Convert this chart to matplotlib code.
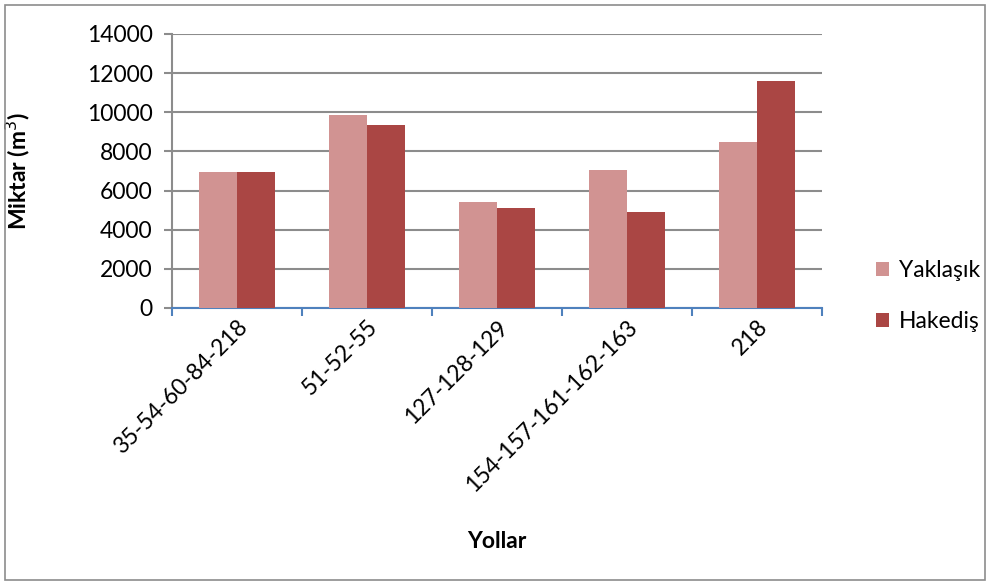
import matplotlib
matplotlib.use("Agg")
import matplotlib.pyplot as plt
import numpy as np
from matplotlib.patches import Rectangle

categories = ["35-54-60-84-218", "51-52-55", "127-128-129", "154-157-161-162-163", "218"]
yaklasik = [6950, 9850, 5420, 7050, 8500]
hakedis = [6950, 9350, 5110, 4900, 11600]
series_names = ["Yaklaşık", "Hakediş"]
yticks = [0, 2000, 4000, 6000, 8000, 10000, 12000, 14000]

plt.rcParams['font.family'] = ['Lato', 'DejaVu Sans']
FS = 16.5

W, H = 990, 585
fig = plt.figure(figsize=(W/100, H/100), dpi=100)
ax = fig.add_axes([172/W, 1-308/H, 650/W, 274/H])

x = np.arange(len(categories))
bw = 0.29
c1 = "#D19392"
c2 = "#AA4644"
ax.bar(x - bw/2, yaklasik, bw, color=c1, label=series_names[0], zorder=3)
ax.bar(x + bw/2, hakedis, bw, color=c2, label=series_names[1], zorder=3)

ax.set_xlim(-0.5, len(categories) - 0.5)
ax.set_ylim(0, 14000)
ax.set_yticks(yticks)
ax.set_yticklabels([str(v) for v in yticks], fontsize=FS)
ax.yaxis.grid(True, color="#8C8C8C", linewidth=1.5, zorder=0)
ax.set_axisbelow(True)

for s in ["top", "right"]:
    ax.spines[s].set_visible(False)
ax.spines["left"].set_color("#8C8C8C")
ax.spines["left"].set_linewidth(1.5)
ax.spines["bottom"].set_color("#4F81BD")
ax.spines["bottom"].set_linewidth(1.5)
ax.tick_params(axis="y", length=6, width=1.5, color="#8C8C8C", pad=8)

# category boundary ticks on x axis
ax.set_xticks(np.arange(-0.5, len(categories), 1.0), minor=True)
ax.set_xticks(x)
ax.tick_params(axis="x", which="minor", length=6, width=1.5, color="#4F81BD")
ax.tick_params(axis="x", which="major", length=0, pad=6)
ax.set_xticklabels(categories, rotation=45, ha="right", rotation_mode="anchor", fontsize=FS)
for lbl in ax.get_xticklabels():
    lbl.set_x(lbl.get_position()[0])

ax.set_ylabel("Miktar (m$^3$)", fontsize=FS, fontweight="bold")
ax.yaxis.set_label_coords((32 - 172)/650, 0.5)
fig.text(497/W, 1-541/H, "Yollar", fontsize=FS, fontweight="bold", ha="center", va="center")

ax.legend(loc="center left", bbox_to_anchor=(855/W, 1-296/H), bbox_transform=fig.transFigure,
          frameon=False, fontsize=FS, handlelength=0.6, handleheight=0.6,
          labelspacing=1.3, handletextpad=0.4)

fig.patches.append(Rectangle((5/W, 5/H), 980/W, 575/H, transform=fig.transFigure,
                             fill=False, edgecolor="#8C8C8C", linewidth=1.2))

fig.savefig("out.png", dpi=100)
